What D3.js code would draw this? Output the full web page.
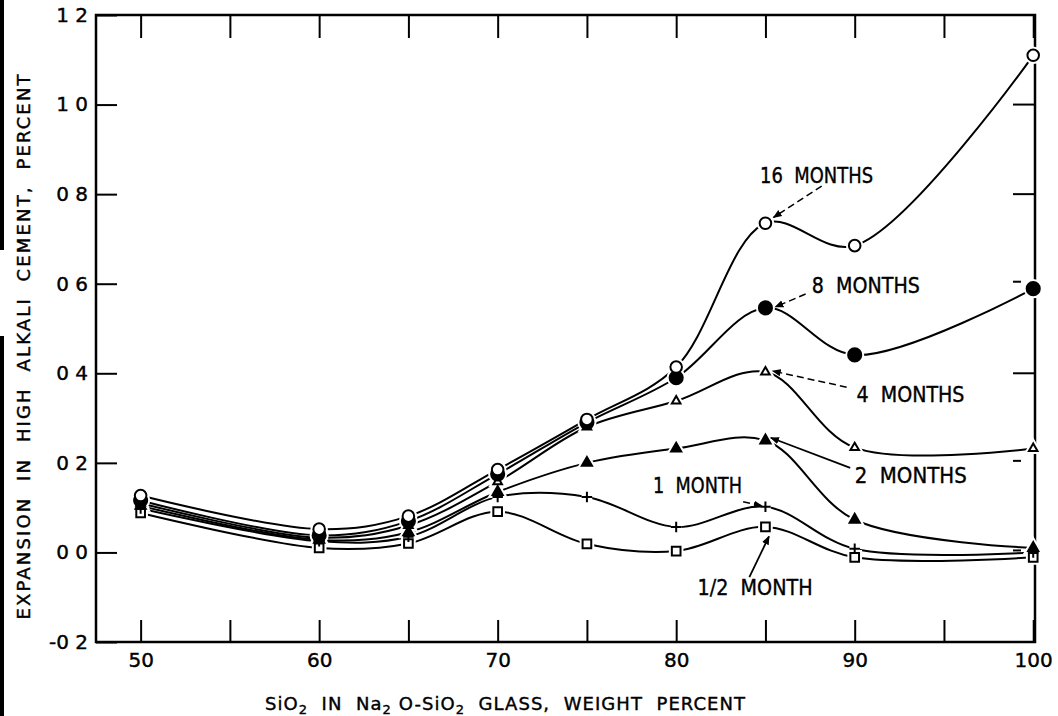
<!DOCTYPE html>
<html>
<head>
<meta charset="utf-8">
<script src="https://cdn.jsdelivr.net/npm/d3@7"></script>
<style>
  body { margin: 0; background: #fff; }
  text { font-family: "DejaVu Sans", "Liberation Sans", sans-serif; fill: #000; stroke: #000; stroke-width: 0.4px; }
</style>
</head>
<body>
<div id="chart"></div>
<script>
// SiO2 content of the glass, weight percent
const silica = [50, 60, 65, 70, 75, 80, 85, 90, 100];

// expansion (percent) at each age
const halfMonth     = [0.088, 0.010, 0.020, 0.091, 0.019, 0.003, 0.057, -0.011, -0.011];
const oneMonth      = [0.098, 0.025, 0.035, 0.124, 0.124, 0.057, 0.102, 0.008, 0.000];
const twoMonths     = [0.104, 0.028, 0.045, 0.135, 0.200, 0.232, 0.250, 0.073, 0.010];
const fourMonths    = [0.110, 0.033, 0.060, 0.158, 0.280, 0.338, 0.403, 0.234, 0.232];
const eightMonths   = [0.116, 0.038, 0.070, 0.175, 0.290, 0.390, 0.546, 0.441, 0.589];
const sixteenMonths = [0.127, 0.052, 0.081, 0.185, 0.297, 0.414, 0.735, 0.685, 1.110];

const xTicks = [50, 55, 60, 65, 70, 75, 80, 85, 90, 95, 100];
const xLabels = [50, 60, 70, 80, 90, 100];
const yTicks = [-0.2, 0, 0.2, 0.4, 0.6, 0.8, 1.0, 1.2];
const yLabels = ["-0 2", "0 0", "0 2", "0 4", "0 6", "0 8", "1 0", "1 2"];
const rightLongTicks = [0.4, 0.8, 1.0];
const rightShortTicks = [0.0, 0.2, 0.6];

// callouts in data units: text anchor, line start, line end
const callouts = [
    {text: "16  MONTHS", tx: 84.7, ty: 0.825, x1: 88.15, y1: 0.818, x2: 85.45, y2: 0.748, dashed: true, w: 113},
    {text: "8  MONTHS", tx: 87.6, ty: 0.579, x1: 87.25, y1: 0.577, x2: 85.55, y2: 0.548, dashed: true, w: 108},
    {text: "4  MONTHS", tx: 90.1, ty: 0.336, x1: 89.55, y1: 0.369, x2: 85.4, y2: 0.405, dashed: true, w: 108},
    {text: "2  MONTHS", tx: 90.0, ty: 0.155, x1: 89.75, y1: 0.189, x2: 85.3, y2: 0.256, dashed: false, w: 112},
    {text: "1  MONTH", tx: 78.7, ty: 0.133, x1: 83.75, y1: 0.113, x2: 84.8, y2: 0.104, dashed: true, w: 89},
    {text: "1/2  MONTH", tx: 81.2, ty: -0.095, x1: 84.1, y1: -0.055, x2: 85.2, y2: 0.036, dashed: false, w: 115}
];

const plus = {
    draw(ctx, size) {
        const r = Math.sqrt(size) / 2;
        ctx.moveTo(-r, 0); ctx.lineTo(r, 0);
        ctx.moveTo(0, -r); ctx.lineTo(0, r);
    }
};

const series = [
    {values: halfMonth, type: d3.symbolSquare, size: 75, fill: "#fff"},
    {values: oneMonth, type: plus, size: 110, fill: "none"},
    {values: twoMonths, type: d3.symbolTriangle, size: 45, fill: "#000"},
    {values: fourMonths, type: d3.symbolTriangle, size: 32, fill: "#fff"},
    {values: eightMonths, type: d3.symbolCircle, size: 135, fill: "#000"},
    {values: sixteenMonths, type: d3.symbolCircle, size: 105, fill: "#fff"}
];

const W = 1058, H = 716;
const margin = {left: 96, right: 1035, top: 15, bottom: 642};

const svg = d3.select("#chart")
    .append("svg")
    .attr("width", W)
    .attr("height", H);

const x = d3.scaleLinear().domain([47.5, 100.1]).range([margin.left, margin.right]);
const y = d3.scaleLinear().domain([-0.2, 1.2]).range([margin.bottom, margin.top]);

// scan edge on the left
svg.append("rect").attr("x", 0).attr("y", 0).attr("width", 4).attr("height", 250).attr("fill", "#000");
svg.append("rect").attr("x", 0).attr("y", 336).attr("width", 4).attr("height", 380).attr("fill", "#000");

svg.append("defs").append("marker")
    .attr("id", "arrow")
    .attr("viewBox", "0 0 10 10")
    .attr("refX", 9).attr("refY", 5)
    .attr("markerWidth", 9).attr("markerHeight", 9)
    .attr("markerUnits", "userSpaceOnUse")
    .attr("orient", "auto")
    .append("path")
    .attr("d", "M0,1 L10,5 L0,9 Z")
    .attr("fill", "#000");

// frame
svg.append("rect")
    .attr("x", margin.left).attr("y", margin.top)
    .attr("width", margin.right - margin.left).attr("height", margin.bottom - margin.top)
    .attr("fill", "none").attr("stroke", "#000").attr("stroke-width", 2.5);

// bottom axis with inward ticks
const xAxis = svg.append("g")
    .attr("transform", `translate(0,${margin.bottom})`)
    .call(d3.axisBottom(x).tickValues(xTicks).tickSize(-22).tickPadding(11)
        .tickFormat(d => xLabels.includes(d) ? d : ""));
// top ticks
const xTop = svg.append("g")
    .attr("transform", `translate(0,${margin.top})`)
    .call(d3.axisTop(x).tickValues(xTicks).tickSize(-23).tickFormat(""));

const yAxis = svg.append("g")
    .attr("transform", `translate(${margin.left},0)`)
    .call(d3.axisLeft(y).tickValues(yTicks).tickSize(-21).tickPadding(8)
        .tickFormat((d, i) => yLabels[i]));

[xAxis, xTop, yAxis].forEach(g => {
    g.select(".domain").remove();
    g.selectAll(".tick line").attr("stroke-width", 2);
    g.selectAll("text")
        .attr("fill", "#000")
        .style("font-size", "20px")
        .style("font-family", "DejaVu Sans, sans-serif")
        .style("white-space", "pre");
});

// right side ticks
svg.selectAll(".rlong").data(rightLongTicks).enter().append("line")
    .attr("x1", margin.right - 22).attr("x2", margin.right)
    .attr("y1", d => y(d)).attr("y2", d => y(d))
    .attr("stroke", "#000").attr("stroke-width", 2);
svg.selectAll(".rshort").data(rightShortTicks).enter().append("line")
    .attr("x1", margin.right - 22).attr("x2", margin.right - 14)
    .attr("y1", d => y(d) - 2).attr("y2", d => y(d) - 2)
    .attr("stroke", "#000").attr("stroke-width", 2);

// curves
const line = d3.line()
    .x((d, i) => x(silica[i]))
    .y(d => y(d))
    .curve(d3.curveCatmullRom.alpha(0.5));

svg.selectAll(".curve").data(series).enter().append("path")
    .attr("d", s => line(s.values))
    .attr("fill", "none")
    .attr("stroke", "#000")
    .attr("stroke-width", 2);

// white halos so lines stop short of the symbols
series.forEach(s => {
    const sym = d3.symbol().type(s.type).size(s.size);
    svg.append("g").selectAll("path").data(s.values).enter().append("path")
        .attr("transform", (d, i) => `translate(${x(silica[i])},${y(d)})`)
        .attr("d", sym)
        .attr("fill", "#fff")
        .attr("stroke", "#fff")
        .attr("stroke-width", 6);
});
series.forEach(s => {
    const sym = d3.symbol().type(s.type).size(s.size);
    svg.append("g").selectAll("path").data(s.values).enter().append("path")
        .attr("transform", (d, i) => `translate(${x(silica[i])},${y(d)})`)
        .attr("d", sym)
        .attr("fill", s.fill)
        .attr("stroke", "#000")
        .attr("stroke-width", 2);
});

// callouts
callouts.forEach(c => {
    svg.append("line")
        .attr("x1", x(c.x1)).attr("y1", y(c.y1))
        .attr("x2", x(c.x2)).attr("y2", y(c.y2))
        .attr("stroke", "#000")
        .attr("stroke-width", c.dashed ? 1.5 : 1.8)
        .attr("stroke-dasharray", c.dashed ? "7,4" : null)
        .attr("marker-end", "url(#arrow)");
    svg.append("text")
        .attr("x", x(c.tx)).attr("y", y(c.ty))
        .attr("textLength", c.w)
        .attr("lengthAdjust", "spacingAndGlyphs")
        .style("font-size", "22px")
        .style("white-space", "pre")
        .text(c.text);
});

// axis titles
const xt = svg.append("text")
    .attr("x", 265).attr("y", 710)
    .attr("textLength", 480)
    .attr("lengthAdjust", "spacing")
    .style("font-size", "18px")
    .style("white-space", "pre");
xt.append("tspan").text("SiO");
xt.append("tspan").attr("dy", 4).style("font-size", "13px").text("2");
xt.append("tspan").attr("dy", -4).text("  IN  Na");
xt.append("tspan").attr("dy", 4).style("font-size", "13px").text("2");
xt.append("tspan").attr("dy", -4).text(" O-SiO");
xt.append("tspan").attr("dy", 4).style("font-size", "13px").text("2");
xt.append("tspan").attr("dy", -4).text("  GLASS,  WEIGHT  PERCENT");

svg.append("text")
    .attr("transform", `translate(30,347) rotate(-90)`)
    .attr("text-anchor", "middle")
    .attr("textLength", 545)
    .attr("lengthAdjust", "spacing")
    .style("font-size", "18px")
    .style("white-space", "pre")
    .text("EXPANSION  IN  HIGH  ALKALI  CEMENT,  PERCENT");
</script>
</body>
</html>
